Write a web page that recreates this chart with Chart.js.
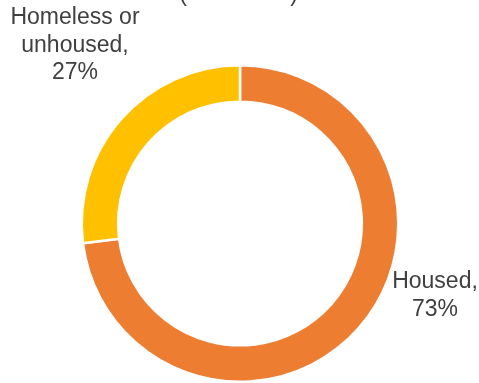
<!DOCTYPE html>
<html>
<head>
<meta charset="utf-8">
<script src="https://cdn.jsdelivr.net/npm/chart.js@4"></script>
<style>
  html, body { margin: 0; padding: 0; background: #fff; }
  #wrap { width: 479px; height: 383px; }
</style>
</head>
<body>
<div id="wrap"><canvas id="donutChart"></canvas></div>
<script>
const categories = ['Housed', 'Homeless or unhoused'];
const shares = [73, 27];
const labelLines = [['Housed,', '73%'], ['Homeless or', 'unhoused,', '27%']];
const colors = ['#ED7D31', '#FFC000'];

// where each outside label sits, relative to the ring centre
const labelOffsets = [{ dx: 195, dy: 72 }, { dx: -165, dy: -178 }];

const outsideLabels = {
  id: 'outsideLabels',
  afterDraw(chart) {
    const c = chart.ctx;
    const arc = chart.getDatasetMeta(0).data[0];
    c.save();
    c.fillStyle = '#404040';
    c.font = '23px "Liberation Sans", Arial, sans-serif';
    c.textAlign = 'center';
    c.textBaseline = 'middle';
    labelLines.forEach((lines, i) => {
      const lh = 27.5;
      const y0 = arc.y + labelOffsets[i].dy - (lines.length - 1) * lh / 2;
      lines.forEach((t, j) => c.fillText(t, arc.x + labelOffsets[i].dx, y0 + j * lh));
    });
    // the chart title is cut off at the top edge, only its brackets peek in
    c.textBaseline = 'alphabetic';
    c.fillText('(', 183, 1);
    c.fillText(')', 294, 1);
    c.restore();
  }
};

const ctx = document.getElementById('donutChart').getContext('2d');
new Chart(ctx, {
  type: 'doughnut',
  data: {
    labels: categories,
    datasets: [{
      data: shares,
      backgroundColor: colors,
      borderColor: '#ffffff',
      borderWidth: 2.5
    }]
  },
  options: {
    responsive: true,
    maintainAspectRatio: false,
    animation: false,
    cutout: '77%',
    layout: { padding: { top: 64, bottom: -3, left: 79, right: 78 } },
    plugins: {
      legend: { display: false },
      tooltip: { enabled: false }
    }
  },
  plugins: [outsideLabels]
});
</script>
</body>
</html>
